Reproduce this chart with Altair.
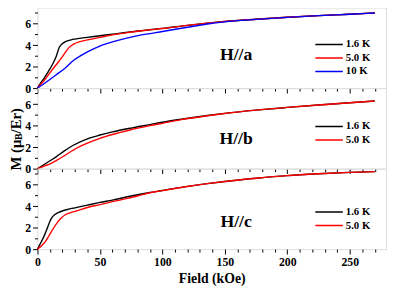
import altair as alt
import pandas as pd

FONT = "Liberation Serif"

temps3 = ["1.6 K", "5.0 K", "10 K"]
temps2 = ["1.6 K", "5.0 K"]
colors3 = ["#000000", "#ff0000", "#0000ff"]
colors2 = ["#000000", "#ff0000"]

# ---- H//a ----
a16_x = [0, 3, 6, 9, 12, 15, 17.5, 20, 22, 24, 27, 30, 35, 40, 50, 60, 74, 87, 100, 120, 136, 150, 175, 200, 225, 250, 270]
a16_y = [0, 0.55, 1.05, 1.6, 2.2, 2.95, 3.8, 4.15, 4.3, 4.4, 4.5, 4.57, 4.66, 4.73, 4.88, 5.02, 5.24, 5.4, 5.56, 5.85, 6.06, 6.22, 6.42, 6.6, 6.75, 6.88, 7.0]
a50_x = [0, 3, 6, 11, 16, 21, 25, 29, 34, 40, 50, 60, 74, 87, 100, 120, 136, 150, 175, 200, 225, 250, 270]
a50_y = [0, 0.4, 0.8, 1.59, 2.32, 3.1, 3.75, 4.1, 4.33, 4.49, 4.73, 4.96, 5.2, 5.39, 5.55, 5.84, 6.05, 6.21, 6.42, 6.6, 6.75, 6.88, 7.0]
a10_x = [0, 6, 11, 16, 21.5, 29, 35, 40, 50, 60, 74, 87, 100, 120, 136, 150, 175, 200, 225, 250, 270]
a10_y = [0, 0.48, 0.9, 1.33, 1.8, 2.6, 3.05, 3.38, 3.92, 4.3, 4.73, 5.03, 5.27, 5.67, 5.97, 6.17, 6.4, 6.59, 6.75, 6.88, 7.0]

# ---- H//b ----
b16_x = [0, 5, 11, 15, 21.5, 29, 40, 50, 60, 75, 90, 100, 115, 136, 150, 175, 200, 225, 250, 270]
b16_y = [0, 0.36, 0.8, 1.1, 1.65, 2.2, 2.78, 3.13, 3.42, 3.78, 4.1, 4.32, 4.6, 4.95, 5.15, 5.45, 5.7, 5.93, 6.14, 6.3]
b50_x = [0, 5, 11, 15, 21.5, 29, 40, 50, 60, 74, 90, 100, 115, 136, 150, 175, 200, 225, 250, 270]
b50_y = [0, 0.22, 0.5, 0.75, 1.2, 1.75, 2.37, 2.82, 3.18, 3.6, 4.0, 4.22, 4.56, 4.93, 5.14, 5.45, 5.7, 5.93, 6.14, 6.3]

# ---- H//c ----
c16_x = [0, 2, 4, 6, 8, 10, 12, 14, 17, 21, 25, 30, 40, 50, 60, 75, 90, 100, 120, 136, 150, 175, 200, 225, 250, 270]
c16_y = [0, 0.45, 0.9, 1.4, 2.0, 2.6, 3.0, 3.22, 3.42, 3.6, 3.72, 3.85, 4.1, 4.35, 4.57, 4.95, 5.28, 5.46, 5.85, 6.1, 6.3, 6.6, 6.85, 7.02, 7.15, 7.22]
c50_x = [0, 3, 6, 9, 12, 16, 19, 22, 26, 30, 40, 50, 60, 70, 80, 90, 100, 120, 136, 150, 175, 200, 225, 250, 270]
c50_y = [0, 0.3, 0.65, 1.2, 1.8, 2.5, 2.9, 3.18, 3.38, 3.52, 3.88, 4.15, 4.42, 4.68, 4.95, 5.25, 5.45, 5.84, 6.1, 6.3, 6.6, 6.85, 7.02, 7.15, 7.22]

labels = ["H//a", "H//b", "H//c"]
label_x = [159, 159, 159]
label_y = [3.12, 2.77, 2.5]

# y-axis title pieces: "M (μ", subscript "B", "/Er)"
ytitle_parts = ["M (\u03bc", "B", "/Er)"]

x_ticks = list(range(0, 280, 10))
y_ticks = [0, 1, 2, 3, 4, 5, 6, 7]

W = 355
H = 82


def frame(pairs):
    rows = []
    for t, xs, ys in pairs:
        for xv, yv in zip(xs, ys):
            rows.append({"T": t, "x": xv, "y": yv})
    return pd.DataFrame(rows)


XSCALE = alt.Scale(domain=[0, 279], nice=False, zero=False)
YSCALE = alt.Scale(domain=[0, 7.5], nice=False)


def panel(df, temps, colors, idx, bottom, ytitle, legend_y):
    x_axis = alt.Axis(
        orient="bottom",
        values=x_ticks,
        labelExpr="datum.value % 50 === 0 ? datum.label : ''",
        labels=bottom,
        labelOverlap=False, labelFlush=False,
        tickSize={"condition": {"test": "datum.value % 50 === 0", "value": 5}, "value": 3},
        tickColor="black", tickWidth=1, domain=False, grid=False,
        labelFont=FONT, labelFontSize=12, labelFontWeight="bold", labelColor="black",
        labelPadding=3,
        title="Field (kOe)" if bottom else None,
        titleFont=FONT, titleFontSize=14, titleFontWeight="bold", titleColor="black",
        titlePadding=4,
    )
    y_axis = alt.Axis(
        orient="left",
        values=y_ticks,
        labelExpr="datum.value % 2 === 0 ? datum.label : ''",
        labelOverlap=False, labelFlush=False,
        tickSize={"condition": {"test": "datum.value % 2 === 0", "value": 5}, "value": 3},
        labelFontSize={"condition": {"test": "datum.value % 2 === 0", "value": 12}, "value": 0},
        tickColor="black", tickWidth=1, domain=False, grid=False,
        labelFont=FONT, labelFontWeight="bold", labelColor="black",
        labelPadding=2,
        title=None,
    )

    lines = alt.Chart(df).mark_line(strokeWidth=1.4, interpolate="monotone").encode(
        x=alt.X("x:Q", scale=XSCALE, axis=x_axis),
        y=alt.Y("y:Q", scale=YSCALE, axis=y_axis),
        color=alt.Color(
            "T:N",
            scale=alt.Scale(domain=temps, range=colors),
            sort=temps,
            legend=alt.Legend(
                orient="none", legendX=282, legendY=legend_y, title=None,
                symbolType="stroke", symbolSize=784, symbolStrokeWidth=1.5,
                labelFont=FONT, labelFontSize=11, labelFontWeight="bold", labelColor="black",
                labelOffset=2, rowPadding=1.8, clipHeight=11, padding=0,
            ),
        ),
    )
    lab_df = pd.DataFrame({"x": [label_x[idx]], "y": [label_y[idx]], "t": [labels[idx]]})
    text = alt.Chart(lab_df).mark_text(
        font=FONT, fontSize=18, fontWeight="bold", color="black", baseline="middle", align="center"
    ).encode(
        x=alt.X("x:Q", scale=XSCALE, axis=x_axis),
        y=alt.Y("y:Q", scale=YSCALE, axis=y_axis),
        text="t:N",
    )
    layers = [lines, text]
    if ytitle:
        one = pd.DataFrame({"k": [0]})
        pos = [(-22, 84, 15), (-19, 52.8, 10), (-22, 46.1, 15)]
        for part, (px, py, fs) in zip(ytitle_parts, pos):
            layers.append(
                alt.Chart(one).mark_text(
                    text=part, font=FONT, fontSize=fs, fontWeight="bold", color="black",
                    angle=270, align="left", baseline="middle",
                ).encode(x=alt.value(px), y=alt.value(py))
            )
    return alt.layer(*layers).properties(width=W, height=H)


dfa = frame([("1.6 K", a16_x, a16_y), ("5.0 K", a50_x, a50_y), ("10 K", a10_x, a10_y)])
dfb = frame([("1.6 K", b16_x, b16_y), ("5.0 K", b50_x, b50_y)])
dfc = frame([("1.6 K", c16_x, c16_y), ("5.0 K", c50_x, c50_y)])

pa = panel(dfa, temps3, colors3, 0, False, False, 32)
pb = panel(dfb, temps2, colors2, 1, False, True, 33.5)
pc = panel(dfc, temps2, colors2, 2, True, False, 38.7)

chart = alt.vconcat(pa, pb, pc, spacing=0, bounds="flush").resolve_scale(
    color="independent"
).configure_view(stroke="black", strokeWidth=1).configure(
    padding={"top": -4, "left": 0, "right": 0, "bottom": 0}, background="white"
)

chart.save("out.html", embed_options={"renderer": "svg", "actions": False})
